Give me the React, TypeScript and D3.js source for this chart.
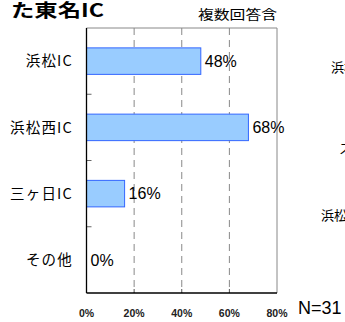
import React from "react";
import * as d3 from "d3";

const categories = ["浜松IC", "浜松西IC", "三ヶ日IC", "その他"];
const values = [48, 68, 16, 0];
const xTicks = [0, 20, 40, 60, 80];
const title = "た東名IC";
const note = "複数回答含";
const nLabel = "N=31";
const sideLabels = ["浜松IC", "スマートIC", "浜松西IC"];

const W = 345;
const H = 322;
const M = { left: 86.5, right: 277, top: 28, bottom: 293 };
const JP = "'Noto Sans CJK JP', 'Noto Sans', sans-serif";
const LAT = "'Liberation Sans', Arial, sans-serif";

export default function App() {
  const x = d3.scaleLinear().domain([0, 80]).range([M.left, M.right]);
  const y = d3
    .scaleBand<string>()
    .domain(categories)
    .range([M.top, M.bottom])
    .paddingInner(0.6)
    .paddingOuter(0.3);
  const step = y.step();
  const bw = y.bandwidth();
  const boundaries = categories.slice(1).map((c) => (y(c) as number) - (step * 0.6) / 2);

  return (
    <svg
      width={W}
      height={H}
      style={{ position: "absolute", left: 0, top: 0, background: "#fff" }}
    >
      <rect x={0} y={0} width={W} height={H} fill="#fff" />
      {/* title */}
      <text
        x={11}
        y={17}
        fontFamily={JP}
        fontWeight="bold"
        fontSize={18}
        textLength={93}
        lengthAdjust="spacingAndGlyphs"
        fill="#000"
      >
        {title}
      </text>
      <text
        x={198}
        y={19}
        fontFamily={JP}
        fontSize={13}
        textLength={79}
        lengthAdjust="spacingAndGlyphs"
        fill="#000"
      >
        {note}
      </text>

      {/* gridlines */}
      {xTicks.slice(1, -1).map((t) => (
        <line
          key={"g" + t}
          x1={x(t)}
          x2={x(t)}
          y1={M.top}
          y2={M.bottom}
          stroke="#888"
          strokeWidth={1}
          strokeDasharray="7,5"
        />
      ))}
      {xTicks.slice(1, -1).map((t) => (
        <line
          key={"bt" + t}
          x1={x(t)}
          x2={x(t)}
          y1={M.bottom - 4}
          y2={M.bottom}
          stroke="#555"
          strokeWidth={1}
        />
      ))}
      {/* frame */}
      <line x1={M.left} x2={M.right} y1={M.top} y2={M.top} stroke="#888" />
      <line x1={M.right} x2={M.right} y1={M.top} y2={M.bottom} stroke="#888" />

      {/* bars */}
      {categories.map((c, i) => (
        <rect
          key={c}
          x={x(0)}
          y={y(c)}
          width={Math.max(0, x(values[i]) - x(0))}
          height={bw}
          fill="#99CCFF"
          stroke={values[i] > 0 ? "#3366FF" : "none"}
          strokeWidth={1}
        />
      ))}
      {categories.map((c, i) => (
        <text
          key={"v" + c}
          x={x(values[i]) + 4}
          y={(y(c) as number) + bw / 2}
          dy="0.36em"
          fontFamily={LAT}
          fontSize={16}
          fill="#000"
        >
          {values[i] + "%"}
        </text>
      ))}

      {/* category ticks */}
      {boundaries.map((b, i) => (
        <line key={"ct" + i} x1={M.left} x2={M.left + 5} y1={b} y2={b} stroke="#666" />
      ))}
      {/* axes */}
      <line x1={M.left} x2={M.left} y1={M.top} y2={M.bottom} stroke="#000" strokeWidth={1.3} />
      <line x1={M.left} x2={M.right} y1={M.bottom} y2={M.bottom} stroke="#000" strokeWidth={1.3} />

      {/* category labels */}
      {categories.map((c) => (
        <text
          key={"c" + c}
          x={73}
          y={(y(c) as number) + bw / 2}
          dy="0.36em"
          textAnchor="end"
          fontFamily={JP}
          fontSize={14.5}
          letterSpacing={1.2}
          fill="#000"
        >
          {c}
        </text>
      ))}

      {/* x tick labels */}
      {xTicks.map((t) => (
        <text
          key={"xt" + t}
          x={x(t)}
          y={317}
          textAnchor="middle"
          fontFamily={LAT}
          fontWeight="bold"
          fontSize={10.5}
          fill="#222"
        >
          {t + "%"}
        </text>
      ))}

      <text x={298} y={314} fontFamily={LAT} fontSize={18} fill="#000">
        {nLabel}
      </text>

      {/* clipped labels of neighbouring chart */}
      <text x={331} y={67} dy="0.36em" fontFamily={JP} fontSize={13} fill="#000">
        {sideLabels[0]}
      </text>
      <text x={339} y={148} dy="0.36em" fontFamily={JP} fontSize={13} fill="#000">
        {sideLabels[1]}
      </text>
      <text x={321} y={215} dy="0.36em" fontFamily={JP} fontSize={13} fill="#000">
        {sideLabels[2]}
      </text>
    </svg>
  );
}
